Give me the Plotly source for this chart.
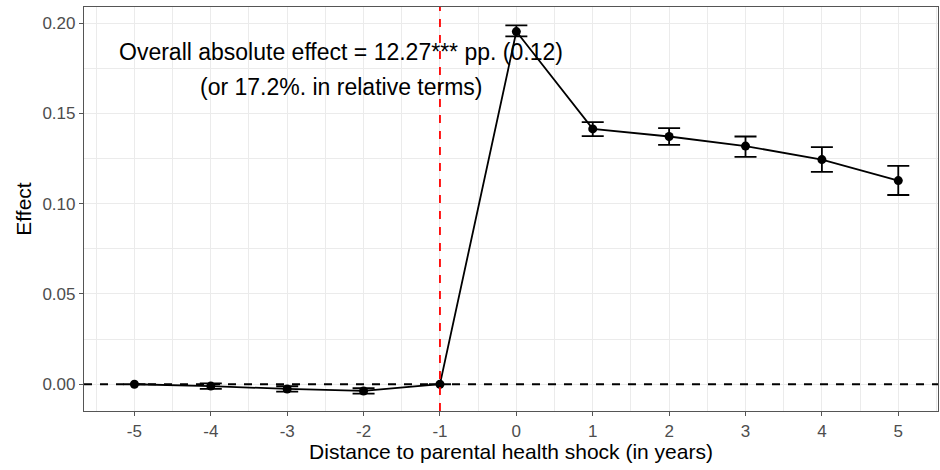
import plotly.graph_objects as go

# Event-study estimates around the parental health shock
years = [-5, -4, -3, -2, -1, 0, 1, 2, 3, 4, 5]
effect = [0.0, -0.0010, -0.0026, -0.0037, 0.0, 0.1953, 0.1414, 0.1372, 0.1319, 0.1244, 0.1128]
ci_upper = [0.0, 0.0005, -0.0011, -0.0022, 0.0, 0.1987, 0.1452, 0.1418, 0.1372, 0.1313, 0.1209]
ci_lower = [0.0, -0.0025, -0.0041, -0.0052, 0.0, 0.1926, 0.1374, 0.1326, 0.1259, 0.1176, 0.1048]

x_ticks = [-5, -4, -3, -2, -1, 0, 1, 2, 3, 4, 5]
y_ticks = [0.0, 0.05, 0.10, 0.15, 0.20]
y_tick_text = ["0.00", "0.05", "0.10", "0.15", "0.20"]

note_line1 = "Overall absolute effect = 12.27*** pp. (0.12)"
note_line2 = "(or 17.2%. in relative terms)"

err_plus = [u - e for u, e in zip(ci_upper, effect)]
err_minus = [e - l for e, l in zip(effect, ci_lower)]

FONT = "Liberation Sans, Arial, sans-serif"
GRID = "#EBEBEB"

fig = go.Figure()

fig.add_trace(go.Scatter(
    x=years, y=effect,
    mode="lines+markers",
    line=dict(color="black", width=1.8),
    marker=dict(color="black", size=9),
    error_y=dict(type="data", symmetric=False, array=err_plus, arrayminus=err_minus,
                 color="black", thickness=1.8, width=11),
    showlegend=False,
    hoverinfo="skip",
))

# Reference lines: zero effect and the year before the shock
fig.add_shape(type="line", xref="paper", yref="y", x0=0, x1=1, y0=0, y1=0,
              line=dict(color="black", width=1.8, dash="8px,8px"), layer="above")
fig.add_shape(type="line", xref="x", yref="paper", x0=-1, x1=-1, y0=0, y1=1,
              line=dict(color="red", width=1.8, dash="8px,8px"), layer="above")

fig.add_annotation(x=-2.29, y=0.184, xref="x", yref="y", text=note_line1,
                   showarrow=False, font=dict(family=FONT, size=23, color="black"),
                   xanchor="center", yanchor="middle")
fig.add_annotation(x=-2.29, y=0.1648, xref="x", yref="y", text=note_line2,
                   showarrow=False, font=dict(family=FONT, size=23, color="black"),
                   xanchor="center", yanchor="middle")

axis_common = dict(
    showline=True, linecolor="#555555", linewidth=1.2, mirror=True,
    ticks="outside", ticklen=4, tickcolor="#555555", tickwidth=1.2,
    tickfont=dict(family=FONT, size=17, color="#4D4D4D"),
    gridcolor=GRID, gridwidth=1.3, zeroline=False,
)

fig.update_xaxes(
    range=[-5.66, 5.52], tickvals=x_ticks, ticktext=[str(v) for v in x_ticks],
    title=dict(text="Distance to parental health shock (in years)",
               font=dict(family=FONT, size=21, color="black"), standoff=3),
    minor=dict(tickvals=[v + 0.5 for v in range(-6, 6)], showgrid=True,
               gridcolor=GRID, gridwidth=0.7, ticks=""),
    **axis_common,
)
fig.update_yaxes(
    range=[-0.0148, 0.2089], tickvals=y_ticks, ticktext=y_tick_text,
    title=dict(text="Effect", font=dict(family=FONT, size=21, color="black"), standoff=5),
    minor=dict(tickvals=[0.025, 0.075, 0.125, 0.175], showgrid=True,
               gridcolor=GRID, gridwidth=0.7, ticks=""),
    **axis_common,
)

fig.update_layout(
    width=940, height=470, autosize=False,
    margin=dict(l=84, r=2, t=7, b=59),
    plot_bgcolor="white", paper_bgcolor="white",
    font=dict(family=FONT),
)

fig.write_html("out.html")
